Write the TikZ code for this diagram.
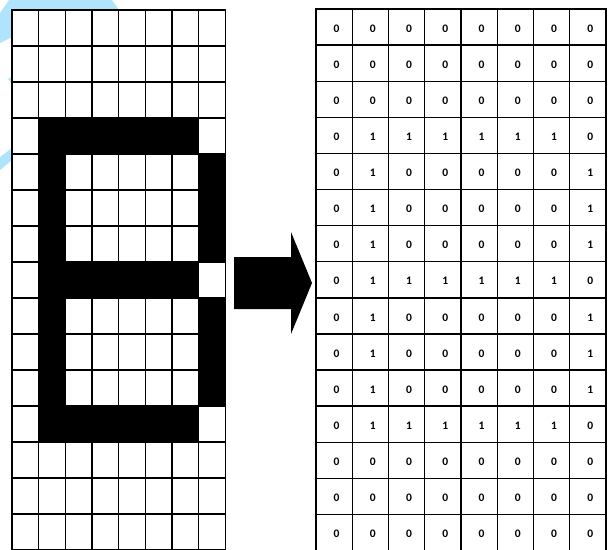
\documentclass[tikz,border=0pt]{standalone}
\usepackage{fontspec}
\setsansfont{Carlito}
\usepackage{tikz}
\definecolor{wmblue}{RGB}{176,228,252}

\begin{document}
\begin{tikzpicture}[
        x=1pt, y=-1pt,
        gridline/.style={line width=1.4pt, line cap=rect},
        pix/.style={fill=black},
        bit/.style={font=\sffamily\bfseries\fontsize{11.5}{13}\selectfont, inner sep=0pt},
    ]
    \useasboundingbox (0,0) rectangle (609,549);

    % faint watermark behind the left grid
    \fill[wmblue] (0,13) -- (9,0) -- (112,0) -- (119,10) -- (12,10) -- (12,37) -- (0,43) -- cycle;
    \fill[wmblue] (8,79) -- (12,76) -- (12,84) -- cycle;
    \fill[wmblue] (0,157) -- (12,148) -- (12,160) -- (0,170) -- cycle;

    % left: the pixel grid
    \fill[white] (12,10) rectangle (225.2,549);
    \foreach \i in {0,...,8}
        \draw[gridline] ({12+\i*26.65},10) -- ({12+\i*26.65},552);
    \foreach \j in {0,...,15}
        \draw[gridline] (12,{10+\j*36}) -- (225.2,{10+\j*36});

    % the letter, cell by cell
    \foreach \r in {4,8,12}
        \fill[pix] (38.0,{10+(\r-1)*36-0.7}) rectangle (199.2,{10+\r*36+0.7});
    \fill[pix] (38.0,117.3) rectangle (65.95,442.7);
    \fill[pix] (197.9,153.3) rectangle (225.9,262.7);
    \fill[pix] (197.9,297.3) rectangle (225.9,406.7);

    % arrow
    \fill (234,257) -- (291,257) -- (291,232) -- (312,283) -- (291,334) -- (291,309) -- (234,309) -- cycle;

    % right: the bit matrix
    \foreach \i in {0,...,8}
        \draw[gridline] ({316+\i*36.25},9) -- ({316+\i*36.25},552);
    \foreach \j in {0,...,15}
        \draw[gridline] (316,{9+\j*36.1}) -- (606,{9+\j*36.1});

    \foreach \row [count=\r] in {
            {0,0,0,0,0,0,0,0},
            {0,0,0,0,0,0,0,0},
            {0,0,0,0,0,0,0,0},
            {0,1,1,1,1,1,1,0},
            {0,1,0,0,0,0,0,1},
            {0,1,0,0,0,0,0,1},
            {0,1,0,0,0,0,0,1},
            {0,1,1,1,1,1,1,0},
            {0,1,0,0,0,0,0,1},
            {0,1,0,0,0,0,0,1},
            {0,1,0,0,0,0,0,1},
            {0,1,1,1,1,1,1,0},
            {0,0,0,0,0,0,0,0},
            {0,0,0,0,0,0,0,0},
            {0,0,0,0,0,0,0,0}}
        \foreach \v [count=\c] in \row
            \node[bit] (v-\r-\c) at ({316+(\c-0.5)*36.25+2.5},{9+(\r-0.5)*36.1+1.5}) {\v};

\end{tikzpicture}
\end{document}
